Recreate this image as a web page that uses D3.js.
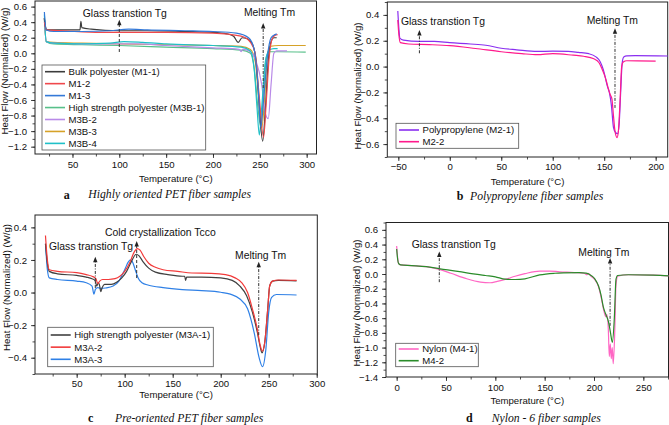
<!DOCTYPE html>
<html><head><meta charset="utf-8">
<script src="https://cdn.jsdelivr.net/npm/d3@7"></script>
<style>body{margin:0;background:#fff}svg{display:block}</style>
</head><body><svg id="chart" width="669" height="425"></svg>
<script>
// ---------------- DATA ----------------
// Panel a: Highly oriented PET fiber samples  [temperature °C, heat flow W/g]
const aNames = ["Bulk polyester (M1-1)", "M1-2", "M1-3", "High strength polyester (M3B-1)", "M3B-2", "M3B-3", "M3B-4"];
const aM1_1 = [[20,0.45],[21,0.35],[23,0.3],[40,0.3],[58,0.3],[59,0.41],[60,0.33],[70,0.31],[100,0.29],[130,0.29],[170,0.28],[200,0.27],[215,0.25],[222,0.22],[227,0.14],[231,0.2],[236,0.19],[242,0.12],[246,-0.1],[249,-0.6],[253,-1.13],[256,-0.7],[259,-0.1],[262,0.15],[265,0.2],[268,0.2]];
const aM1_2 = [[20,0.4],[22,0.3],[40,0.29],[80,0.27],[100,0.27],[150,0.27],[200,0.26],[230,0.22],[240,0.14],[245,0],[249,-0.5],[254,-1.08],[257,-0.6],[260,-0.05],[263,0.18],[266,0.23],[269,0.24]];
const aM1_3 = [[20,0.53],[22,0.3],[30,0.28],[60,0.28],[90,0.29],[110,0.31],[130,0.3],[170,0.29],[200,0.28],[225,0.26],[238,0.2],[244,0.05],[248,-0.4],[251,-0.95],[254,-0.6],[258,-0.05],[262,0.2],[266,0.24],[268,0.25]];
const aM3B_1 = [[20,0.45],[22,0.15],[30,0.12],[60,0.11],[100,0.1],[150,0.08],[200,0.06],[230,0.04],[240,0.0],[244,-0.2],[248,-0.7],[251,-0.95],[254,-0.5],[257,-0.05],[260,0.02],[270,0.02],[299,0.015]];
const aM3B_2 = [[20,0.45],[22,0.15],[30,0.13],[60,0.12],[100,0.12],[120,0.12],[150,0.1],[200,0.07],[228,0.05],[230,0.02],[232,0.05],[240,0.02],[246,-0.1],[252,-0.4],[256,-0.78],[259,-0.84],[262,-0.4],[265,0.0],[268,0.03],[279,0.03]];
const aM3B_3 = [[20,0.45],[22,0.15],[30,0.14],[60,0.13],[100,0.12],[150,0.11],[200,0.1],[230,0.09],[240,0.05],[245,-0.1],[249,-0.6],[252,-0.96],[255,-0.6],[258,-0.05],[261,0.09],[270,0.1],[299,0.1]];
const aM3B_4 = [[20,0.5],[22,0.15],[30,0.13],[60,0.12],[90,0.13],[105,0.15],[125,0.14],[150,0.12],[200,0.1],[230,0.08],[240,0.03],[244,-0.2],[247,-0.7],[249.5,-1.05],[252,-0.7],[256,-0.1],[260,0.04],[265,0.06],[269,0.06]];

// Panel b: Polypropylene fiber samples
const bNames = ["Polypropylene (M2-1)", "M2-2"];
const bM2_1 = [[-50.5,0.43],[-49.5,0.3],[-48.5,0.22],[-45,0.205],[-30,0.195],[-15,0.195],[0,0.185],[20,0.175],[35,0.165],[50,0.142],[65,0.13],[85,0.117],[100,0.12],[115,0.118],[125,0.11],[135,0.1],[142,0.075],[146,0.04],[149,-0.02],[151,-0.08],[153,-0.15],[155,-0.2],[157,-0.3],[159,-0.47],[161,-0.51],[163,-0.52],[164.5,-0.45],[166,-0.2],[167.5,0.03],[169,0.075],[172,0.083],[180,0.085],[212,0.082]];
const bM2_2 = [[-50.5,0.36],[-49.5,0.25],[-48,0.185],[-40,0.175],[-20,0.17],[0,0.162],[25,0.14],[50,0.115],[70,0.1],[85,0.092],[100,0.1],[120,0.088],[130,0.08],[140,0.06],[145,0.03],[148,-0.02],[150,-0.06],[152,-0.11],[154,-0.17],[156,-0.22],[157.5,-0.25],[159,-0.38],[160.5,-0.5],[162.5,-0.55],[163.8,-0.5],[165.5,-0.25],[167,0.0],[168.5,0.035],[172,0.045],[200,0.043]];

// Panel c: Pre-oriented PET fiber samples
const cNames = ["High strength polyester (M3A-1)", "M3A-2", "M3A-3"];
const cM3A_1 = [[17.5,0.3],[19.5,0.18],[21.5,0.13],[30,0.115],[50,0.105],[60,0.095],[66,0.085],[69,0.075],[71,0.04],[72.5,0.06],[74,0.04],[75,0.005],[76.5,0.03],[79,0.05],[86,0.05],[92,0.065],[97,0.09],[102,0.13],[107,0.19],[112,0.235],[115,0.225],[119,0.19],[125,0.15],[132,0.125],[145,0.11],[160,0.1],[162.5,0.1],[163.5,0.075],[164.5,0.095],[180,0.095],[200,0.09],[212,0.075],[220,0.04],[227,-0.02],[233,-0.12],[238,-0.24],[241,-0.33],[243,-0.37],[246,-0.3],[249,-0.1],[251,0.04],[254,0.07],[260,0.075],[279,0.072]];
const cM3A_2 = [[17.5,0.35],[19.5,0.2],[21.5,0.14],[30,0.13],[50,0.122],[60,0.11],[66,0.1],[70,0.085],[72,0.055],[74,0.07],[77,0.08],[83,0.08],[90,0.085],[95,0.1],[100,0.13],[105,0.18],[110,0.25],[113,0.27],[116,0.26],[120,0.22],[125,0.18],[132,0.155],[140,0.14],[155,0.13],[170,0.12],[190,0.118],[205,0.11],[215,0.09],[222,0.06],[228,0.0],[233,-0.1],[238,-0.22],[241,-0.32],[243.3,-0.36],[246,-0.3],[249,-0.1],[251,0.04],[254,0.07],[260,0.077],[279,0.075]];
const cM3A_3 = [[17.5,0.3],[19.5,0.14],[21.5,0.09],[30,0.08],[50,0.07],[60,0.06],[66,0.04],[68,-0.01],[69.5,0.02],[72,0.03],[75,0.025],[80,0.028],[88,0.04],[94,0.07],[100,0.14],[104,0.19],[106,0.2],[108,0.19],[111,0.14],[114,0.09],[118,0.06],[125,0.045],[140,0.03],[160,0.018],[180,0.012],[200,0.002],[210,-0.01],[220,-0.04],[228,-0.1],[235,-0.25],[240,-0.4],[243.5,-0.455],[247,-0.35],[250,-0.12],[253,-0.03],[258,-0.012],[279,-0.015]];

// Panel d: Nylon-6 fiber samples
const dNames = ["Nylon (M4-1)", "M4-2"];
const dM4_1 = [[0,0.38],[1,0.22],[2,0.14],[4,0.125],[15,0.115],[30,0.1],[44,0.06],[55,0.01],[71,-0.065],[85,-0.11],[94.6,-0.119],[102,-0.1],[110,-0.074],[120,-0.03],[130,0.005],[145,0.04],[155,0.04],[165,0.03],[180,0.02],[190,0.01],[193,-0.01],[194,0.01],[197,-0.03],[201,-0.08],[204.5,-0.17],[207,-0.3],[209.5,-0.47],[212,-0.58],[213,-0.55],[214.5,-0.75],[215.5,-1.12],[216.5,-0.95],[217.5,-1.15],[218.5,-1.0],[219.5,-1.22],[221,-0.8],[222.3,-0.15],[224,-0.03],[235,-0.01],[260,-0.015],[283,-0.03]];
const dM4_2 = [[0,0.34],[1,0.2],[2,0.14],[4,0.125],[15,0.115],[30,0.1],[44,0.07],[60,0.04],[71,0.016],[90,-0.02],[100,-0.038],[110,-0.07],[120,-0.075],[130,-0.065],[145,-0.012],[160,0.01],[169,0.016],[185,0.02],[192,0.012],[197,-0.02],[201,-0.07],[204.5,-0.16],[207,-0.28],[209.5,-0.45],[212,-0.55],[214.5,-0.64],[216.5,-0.78],[218.6,-0.93],[220.6,-0.6],[222.3,-0.07],[224,-0.02],[235,-0.01],[260,-0.015],[283,-0.03]];

// Tick values
const aXTicks = [50,100,150,200,250,300];
const aYTicks = [-1.2,-1.0,-0.8,-0.6,-0.4,-0.2,0.0,0.2,0.4,0.6];
const bXTicks = [-50,0,50,100,150,200];
const bYTicks = [-0.6,-0.4,-0.2,0.0,0.2,0.4];
const cXTicks = [50,100,150,200,250,300];
const cYTicks = [-0.4,-0.2,0.0,0.2,0.4];
const dXTicks = [0,50,100,150,200,250];
const dYTicks = [-1.4,-1.2,-1.0,-0.8,-0.6,-0.4,-0.2,0.0,0.2,0.4,0.6];

// Annotations (data coordinates): text, text start T, text centre value; arrow T, from value, to value
const aNotes = [{t:"Glass transtion Tg", x:61, y:0.513, ax:100, y0:0.017, y1:0.43, dash:"3,2"},
                {t:"Melting Tm", x:233, y:0.53, ax:253.6, y0:-0.446, y1:0.39, dash:"3,1.5,1,1.5"}];
const bNotes = [{t:"Glass transtion Tg", x:-47.5, y:0.348, ax:-29.5, y0:0.103, y1:0.284, dash:"3,1.5,1,1.5"},
                {t:"Melting Tm", x:133, y:0.356, ax:160.5, y0:-0.32, y1:0.297, dash:"3,1.5,1,1.5"}];
const cNotes = [{t:"Cold crystallization Tcco", x:79.5, y:0.367, ax:112.5, y0:0.089, y1:0.316, dash:"3,2"},
                {t:"Glass transtion Tg", x:21.1, y:0.285, ax:69.4, y0:0.028, y1:0.22, dash:"3,1.5,1,1.5"},
                {t:"Melting Tm", x:214.9, y:0.226, ax:239.6, y0:-0.261, y1:0.189, dash:"3,1.5,1,1.5"}];
const dNotes = [{t:"Glass transtion Tg", x:15.2, y:0.407, ax:43.2, y0:-0.111, y1:0.307, dash:"3,1.5,1,1.5"},
                {t:"Melting Tm", x:184.1, y:0.294, ax:216.3, y0:-0.704, y1:0.218, dash:"3,1.5,1,1.5"}];

// ---------------- DRAWING ----------------
const SANS = "'Liberation Sans', Arial, sans-serif";
const SERIF = "'Liberation Serif', 'Times New Roman', serif";
const svg = d3.select("#chart");

const panels = [
  {id:"a", letter:"a", caption:"Highly oriented PET fiber samples",
   frame:{l:35,r:316.5,t:1,b:154}, xDom:[10,310.5], yDom:[-1.294,0.672],
   xTicks:aXTicks, yTicks:aYTicks, xMinor:25, yMinor:0.1, xPad:3,
   series:[aM1_1,aM1_2,aM1_3,aM3B_1,aM3B_2,aM3B_3,aM3B_4], names:aNames,
   colors:["#3c3c3c","#f0484c","#3479d8","#58c08a","#b98ae8","#d6a228","#20c0c8"],
   drawOrder:[3,5,4,6,0,1,2],
   legend:{x:42,y:65,w:163.7,h:85,row0:71.7,dy:11.95},
   notes:aNotes, yTitleX:5, yTitleY:71, capLetterX:66.7, capTextX:88.3, capY:194.3, xTitleY:179},
  {id:"b", letter:"b", caption:"Polypropylene fiber samples",
   frame:{l:387.3,r:667.7,t:2,b:157}, xDom:[-60.7,211.7], yDom:[-0.7,0.5],
   xTicks:bXTicks, yTicks:bYTicks, xMinor:25, yMinor:0.1, xPad:2,
   series:[bM2_1,bM2_2], names:bNames, colors:["#8a2ff0","#ff1a8c"], drawOrder:[0,1],
   legend:{x:396,y:123.3,w:122.7,h:25,row0:130,dy:11.7},
   notes:bNotes, yTitleX:357.7, yTitleY:86, capLetterX:460, capTextX:470, capY:195.5, xTitleY:181.7},
  {id:"c", letter:"c", caption:"Pre-oriented PET fiber samples",
   frame:{l:35,r:317.3,t:215,b:374}, xDom:[6.6,300.6], yDom:[-0.5,0.476],
   xTicks:cXTicks, yTicks:cYTicks, xMinor:25, yMinor:0.1, xPad:2,
   series:[cM3A_1,cM3A_2,cM3A_3], names:cNames, colors:["#404040","#f23a3a","#2f80e6"], drawOrder:[2,0,1],
   legend:{x:47.7,y:327.3,w:165.6,h:39.4,row0:335,dy:12.15},
   notes:cNotes, yTitleX:6.5, yTitleY:287.5, capLetterX:90.7, capTextX:115, capY:417.8, xTitleY:394.3},
  {id:"d", letter:"d", caption:"Nylon - 6 fiber samples",
   frame:{l:386,r:668.5,t:222.5,b:377}, xDom:[-10.8,275.5], yDom:[-1.4,0.7],
   xTicks:dXTicks, yTicks:dYTicks, xMinor:25, yMinor:0.1, xPad:3,
   series:[dM4_1,dM4_2], names:dNames, colors:["#ff66c4","#2a8c2a"], drawOrder:[0,1],
   legend:{x:395.7,y:343.3,w:82.6,h:23.4,row0:349,dy:11.7},
   notes:dNotes, yTitleX:356.7, yTitleY:303, capLetterX:469.3, capTextX:491.7, capY:418, xTitleY:400.5}
];

function range(a, b, step) {
  const out = [];
  const n = Math.round((b - a) / step);
  for (let i = 0; i <= n; i++) out.push(+(a + i * step).toFixed(6));
  return out;
}

panels.forEach(p => {
  const f = p.frame;
  const x = d3.scaleLinear().domain(p.xDom).range([f.l, f.r]);
  const y = d3.scaleLinear().domain(p.yDom).range([f.b, f.t]);
  const g = svg.append("g");

  const clipId = "clip-" + p.id;
  g.append("clipPath").attr("id", clipId).append("rect")
    .attr("x", f.l).attr("y", f.t).attr("width", f.r - f.l).attr("height", f.b - f.t);

  // minor ticks
  const xMin = Math.ceil(p.xDom[0] / p.xMinor) * p.xMinor;
  const xMinorVals = range(xMin, p.xDom[1], p.xMinor).filter(v => v <= p.xDom[1]);
  const yMin = Math.ceil(p.yDom[0] / p.yMinor - 1e-6) * p.yMinor;
  const yMinorVals = range(yMin, p.yDom[1], p.yMinor).filter(v => v <= p.yDom[1] + 1e-9);

  g.append("g").attr("transform", `translate(0,${f.b})`)
    .call(d3.axisBottom(x).tickValues(xMinorVals).tickSize(2.5).tickFormat(""))
    .call(s => s.select(".domain").remove());
  g.append("g").attr("transform", `translate(${f.l},0)`)
    .call(d3.axisLeft(y).tickValues(yMinorVals).tickSize(2.5).tickFormat(""))
    .call(s => s.select(".domain").remove());

  // major ticks
  const xa = g.append("g").attr("transform", `translate(0,${f.b})`)
    .call(d3.axisBottom(x).tickValues(p.xTicks).tickSize(4).tickPadding(p.xPad).tickFormat(d3.format("d")));
  const ya = g.append("g").attr("transform", `translate(${f.l},0)`)
    .call(d3.axisLeft(y).tickValues(p.yTicks).tickSize(4).tickPadding(4).tickFormat(d3.format(".1f")));
  [xa, ya].forEach(a => {
    a.select(".domain").remove();
    a.selectAll("text").attr("font-family", SANS).attr("font-size", 9.6).attr("fill", "#111");
  });
  g.selectAll(".tick line").attr("stroke", "#222").attr("stroke-width", 0.8);

  // frame
  g.append("rect").attr("x", f.l).attr("y", f.t).attr("width", f.r - f.l).attr("height", f.b - f.t)
    .attr("fill", "none").attr("stroke", "#222").attr("stroke-width", 1);

  // curves
  const line = d3.line().x(d => x(d[0])).y(d => y(d[1])).curve(d3.curveMonotoneX);
  const cg = g.append("g").attr("clip-path", `url(#${clipId})`);
  p.drawOrder.forEach(i => {
    cg.append("path").datum(p.series[i]).attr("d", line)
      .attr("fill", "none").attr("stroke", p.colors[i]).attr("stroke-width", 1.2)
      .attr("stroke-linejoin", "round");
  });

  // annotations
  p.notes.forEach(n => {
    const ax = x(n.ax), y0 = y(n.y0), y1 = y(n.y1);
    g.append("line").attr("x1", ax).attr("x2", ax).attr("y1", y0).attr("y2", y1 + 4)
      .attr("stroke", "#333").attr("stroke-width", 1).attr("stroke-dasharray", n.dash);
    g.append("path").attr("d", `M${ax},${y1} L${ax - 2.2},${y1 + 5.5} L${ax + 2.2},${y1 + 5.5} Z`)
      .attr("fill", "#222");
    g.append("text").attr("x", x(n.x)).attr("y", y(n.y)).attr("dy", "0.35em")
      .attr("font-family", SANS).attr("font-size", 10.4).attr("fill", "#111").text(n.t);
  });

  // legend
  const L = p.legend;
  const lg = g.append("g");
  lg.append("rect").attr("x", L.x).attr("y", L.y).attr("width", L.w).attr("height", L.h)
    .attr("fill", "#fff").attr("stroke", "#555").attr("stroke-width", 0.8);
  p.names.forEach((nm, i) => {
    const ry = L.row0 + i * L.dy;
    lg.append("line").attr("x1", L.x + 3).attr("x2", L.x + 23).attr("y1", ry).attr("y2", ry)
      .attr("stroke", p.colors[i]).attr("stroke-width", 1.6);
    lg.append("text").attr("x", L.x + 26.5).attr("y", ry).attr("dy", "0.35em")
      .attr("font-family", SANS).attr("font-size", 9.6).attr("fill", "#111").text(nm);
  });

  // axis titles
  g.append("text").attr("x", (f.l + f.r) / 2).attr("y", p.xTitleY).attr("dy", "0.35em")
    .attr("text-anchor", "middle").attr("font-family", SANS).attr("font-size", 9.6).attr("fill", "#111")
    .text("Temperature (°C)");
  g.append("text").attr("transform", `translate(${p.yTitleX},${p.yTitleY}) rotate(-90)`).attr("dy", "0.35em")
    .attr("text-anchor", "middle").attr("font-family", SANS).attr("font-size", 9.6).attr("fill", "#111")
    .text("Heat Flow (Normalized) (W/g)");

  // caption
  g.append("text").attr("x", p.capLetterX).attr("y", p.capY).attr("dy", "0.35em").attr("text-anchor", "middle")
    .attr("font-family", SERIF).attr("font-weight", "bold").attr("font-size", 12).attr("fill", "#111").text(p.letter);
  g.append("text").attr("x", p.capTextX).attr("y", p.capY).attr("dy", "0.35em")
    .attr("font-family", SERIF).attr("font-style", "italic").attr("font-size", 11.7).attr("fill", "#111").text(p.caption);
});
</script></body></html>
